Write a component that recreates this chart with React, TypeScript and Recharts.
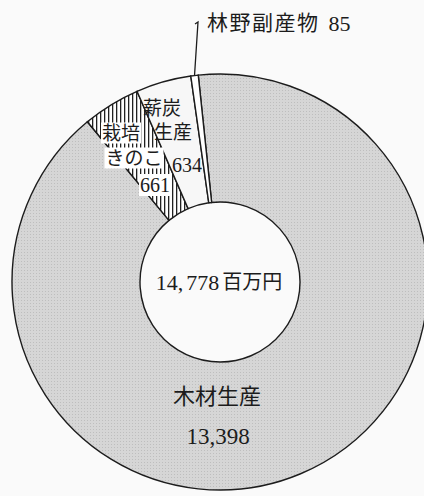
import React from 'react';
import { PieChart, Pie, Cell } from 'recharts';

// ---- data ----
const categories: string[] = ['木材生産', '栽培きのこ', '薪炭生産', '林野副産物'];
const values: number[] = [13398, 661, 634, 85];
const totalValue = 14778;
const unitLabel = '百万円';
// label text split into lines as printed in the source
const labelLines: string[][] = [['木材生産'], ['栽培', 'きのこ'], ['薪炭', '生産'], ['林野副産物']];

// ---- styles ----
const fills = ['url(#dotsFill)', 'url(#hatchFill)', '#f7f7f7', '#ffffff'];
const FONT = "'Liberation Serif', 'Noto Sans CJK JP', serif";
const INK = '#1c1c1c';
const CX = 220;
const CY = 282;
// text placement offsets relative to the centre (px) — style only
const labelOffsets: { dx: number; dy: number }[][] = [
  [{ dx: -3, dy: 114 }, { dx: -2, dy: 154 }],
  [{ dx: -99, dy: -149 }, { dx: -86, dy: -124 }, { dx: -65, dy: -97 }],
  [{ dx: -58, dy: -174 }, { dx: -47, dy: -150 }, { dx: -33, dy: -117 }],
  [{ dx: -13, dy: -259 }],
];

const fmt = (n: number) => n.toLocaleString('en-US');

const data = categories.map((name, i) => ({ name, value: values[i] }));

const renderLabel = (props: any) => {
  const { cx, cy, midAngle, outerRadius } = props;
  const idx = categories.indexOf(props.name ?? props.payload?.name);
  if (idx < 0) return null;
  const lines = [...labelLines[idx]];
  const offs = labelOffsets[idx];
  const valueText = fmt(values[idx]);
  const RAD = Math.PI / 180;

  if (idx === 0) {
    const [intPart, restPart] = fmt(totalValue).split(',');
    return (
      <g>
        <text x={cx + offs[0].dx} y={cy + offs[0].dy} textAnchor="middle" dominantBaseline="central"
          fontFamily={FONT} fontSize={22} fill={INK}>{lines[0]}</text>
        <text x={cx + offs[1].dx} y={cy + offs[1].dy} textAnchor="middle" dominantBaseline="central"
          fontFamily={FONT} fontSize={23} fill={INK}>{valueText}</text>
        <text x={cx - 1} y={cy} textAnchor="middle" dominantBaseline="central" fontFamily={FONT} fill={INK}>
          <tspan fontSize={22}>{intPart + ','}</tspan>
          <tspan fontSize={22} dx={3}>{restPart}</tspan>
          <tspan fontSize={20} dx={3}>{unitLabel}</tspan>
        </text>
      </g>
    );
  }

  if (idx === 3) {
    const px = cx + outerRadius * Math.cos(-midAngle * RAD);
    const py = cy + outerRadius * Math.sin(-midAngle * RAD);
    const tx = cx + offs[0].dx;
    const ty = cy + offs[0].dy;
    return (
      <g>
        <polyline points={`${px},${py} ${tx - 9},${ty - 1} ${tx - 12},${ty + 1}`} fill="none" stroke={INK} strokeWidth={1.3} />
        <text x={tx} y={ty} textAnchor="start" dominantBaseline="central" fontFamily={FONT} fill={INK}>
          <tspan fontSize={21} letterSpacing={1.5}>{lines[0]}</tspan>
          <tspan fontSize={22} dx={9}>{valueText}</tspan>
        </text>
      </g>
    );
  }

  const all = [...lines, valueText];
  const whiteBack = idx === 1;
  return (
    <g>
      {all.map((t, k) => {
        const isNum = k === all.length - 1;
        const fs = isNum ? 20 : 19;
        const w = isNum ? t.length * fs * 0.5 : t.length * fs;
        const x = cx + offs[k].dx;
        const y = cy + offs[k].dy;
        return (
          <g key={k}>
            {whiteBack && (
              <rect x={x - w / 2 - 1} y={y - fs / 2 - 1} width={w + 2} height={fs + 2} fill="#ffffff" />
            )}
            <text x={x} y={y} textAnchor="middle" dominantBaseline="central" fontFamily={FONT} fontSize={fs} fill={INK}>
              {t}
            </text>
          </g>
        );
      })}
    </g>
  );
};

export default function App() {
  return (
    <div style={{ position: 'absolute', left: 0, top: 0, width: 424, height: 496, background: '#fafafa', overflow: 'hidden' }}>
      <svg width={0} height={0} style={{ position: 'absolute' }}>
        <defs>
          <pattern id="dotsFill" width={3} height={3} patternUnits="userSpaceOnUse">
            <rect width={3} height={3} fill="#d6d6d6" />
            <rect width={1} height={1} fill="#bebebe" />
          </pattern>
          <pattern id="hatchFill" width={4} height={4} patternUnits="userSpaceOnUse">
            <rect width={4} height={4} fill="#ffffff" />
            <rect x={0} width={1.3} height={4} fill="#222222" />
          </pattern>
        </defs>
      </svg>
      <PieChart width={424} height={496} margin={{ top: 0, right: 0, bottom: 0, left: 0 }}>
        <Pie
          data={data}
          dataKey="value"
          nameKey="name"
          cx={CX}
          cy={CY}
          innerRadius={80}
          outerRadius={208}
          startAngle={96}
          endAngle={-264}
          stroke={INK}
          strokeWidth={1.4}
          isAnimationActive={false}
          labelLine={false}
          label={renderLabel}
        >
          {data.map((d, i) => (
            <Cell key={d.name} fill={fills[i]} />
          ))}
        </Pie>
      </PieChart>
    </div>
  );
}
